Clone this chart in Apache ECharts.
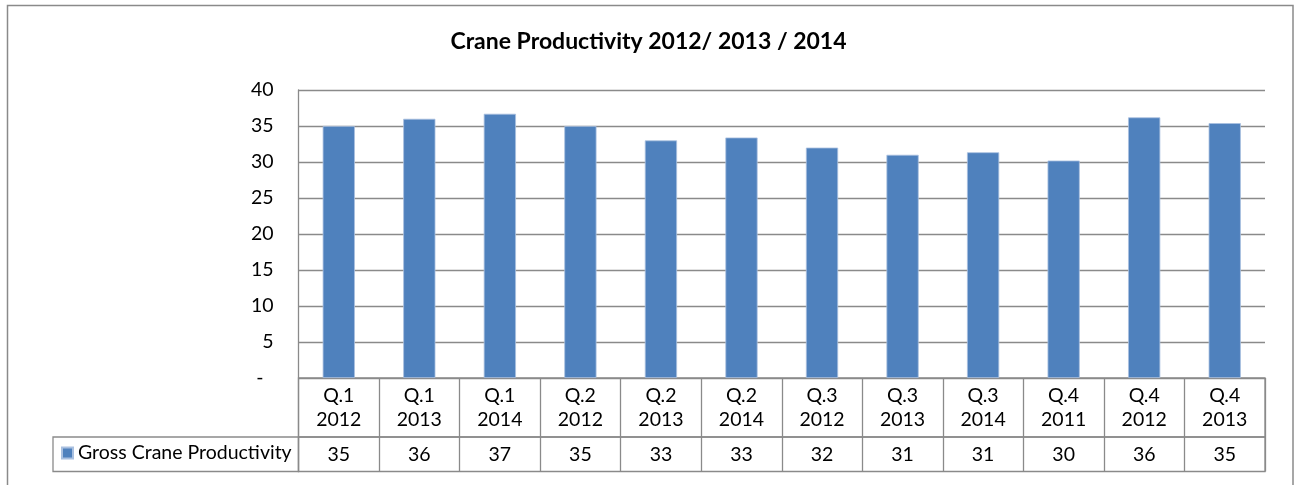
<!DOCTYPE html>
<html>
<head>
<meta charset="utf-8">
<script src="https://cdn.jsdelivr.net/npm/echarts@6/dist/echarts.min.js"></script>
<style>
  html, body { margin: 0; padding: 0; background: #fff; }
  #main { width: 1297px; height: 485px; }
</style>
</head>
<body>
<div id="main"></div>
<script>
// data
var quarters = ['Q.1', 'Q.1', 'Q.1', 'Q.2', 'Q.2', 'Q.2', 'Q.3', 'Q.3', 'Q.3', 'Q.4', 'Q.4', 'Q.4'];
var years = ['2012', '2013', '2014', '2012', '2013', '2014', '2012', '2013', '2014', '2011', '2012', '2013'];
var productivity = [35, 36, 36.7, 35, 33, 33.4, 32, 31, 31.35, 30.2, 36.2, 35.4];
var yTicks = { min: 0, max: 40, step: 5 };
var seriesName = 'Gross Crane Productivity';

var categories = quarters.map(function (q, i) { return q + '\n' + years[i]; });

var gray = '#8a8a8a';
var font = 'Lato, "Open Sans", sans-serif';
var labelSize = 19.5;
var plotLeft = 298.5, plotRight = 32;

var chart = echarts.init(document.getElementById('main'));

var option = {
    animation: false,
    textStyle: { fontFamily: font },
    title: {
        text: 'Crane Productivity 2012/ 2013 / 2014',
        left: 'center',
        top: 30,
        padding: 0,
        textStyle: { fontFamily: font, fontSize: 23, fontWeight: 'bold', color: '#000' }
    },
    legend: {
        data: [seriesName],
        left: 61,
        top: 443,
        padding: 0,
        icon: 'rect',
        itemWidth: 11,
        itemHeight: 11,
        textStyle: { fontFamily: font, fontSize: labelSize, color: '#000' }
    },
    grid: [
        // plot
        { left: plotLeft, right: plotRight, top: 90, height: 288 },
        // table row 1 (categories)
        { left: plotLeft, right: plotRight, top: 378, height: 59, show: true, borderColor: gray, borderWidth: 1.3 },
        // table row 2 (values)
        { left: plotLeft, right: plotRight, top: 437, height: 34.5, show: true, borderColor: gray, borderWidth: 1.3 }
    ],
    xAxis: [
        {
            type: 'category', gridIndex: 0, data: categories,
            axisLine: { show: false }, axisTick: { show: false },
            axisLabel: {
                fontSize: labelSize, lineHeight: 24, color: '#000', margin: 29.5,
                verticalAlign: 'middle', interval: 0
            }
        },
        {
            type: 'category', gridIndex: 1, data: categories,
            axisLine: { show: false }, axisTick: { show: false }, axisLabel: { show: false },
            splitLine: { show: true, interval: 0, lineStyle: { color: gray, width: 1.3 } }
        },
        {
            type: 'category', gridIndex: 2, data: categories,
            axisLine: { show: false }, axisTick: { show: false },
            splitLine: { show: true, interval: 0, lineStyle: { color: gray, width: 1.3 } },
            axisLabel: {
                inside: true, interval: 0, margin: 17, verticalAlign: 'middle',
                fontSize: labelSize, color: '#000',
                formatter: function (v, i) { return String(Math.round(productivity[i])); }
            }
        }
    ],
    yAxis: [
        {
            type: 'value', gridIndex: 0,
            min: yTicks.min, max: yTicks.max, interval: yTicks.step,
            axisLine: { show: true, lineStyle: { color: gray, width: 1.3 } },
            axisTick: { show: false },
            splitLine: { show: true, lineStyle: { color: gray, width: 1.3 } },
            axisLabel: {
                fontSize: labelSize, color: '#000', margin: 25,
                formatter: function (v) { return v === 0 ? '-  ' : String(v); }
            }
        },
        { type: 'value', gridIndex: 1, show: false },
        { type: 'value', gridIndex: 2, show: false }
    ],
    series: [
        {
            name: seriesName,
            type: 'bar',
            xAxisIndex: 0, yAxisIndex: 0,
            data: productivity,
            barWidth: '40%',
            itemStyle: { color: '#4f81bd', borderColor: '#a9c0e0', borderWidth: 0.8 }
        }
    ],
    graphic: [
        // outer chart frame
        {
            type: 'rect', silent: true, z: -1,
            shape: { x: 7.5, y: 5.5, width: 1285.5, height: 520 },
            style: { fill: 'none', stroke: gray, lineWidth: 1.5 }
        },
        // legend cell of the data table
        {
            type: 'rect', silent: true,
            shape: { x: 53, y: 437, width: 245.5, height: 34.5 },
            style: { fill: 'none', stroke: gray, lineWidth: 1.3 }
        }
    ]
};

chart.setOption(option);
</script>
</body>
</html>
